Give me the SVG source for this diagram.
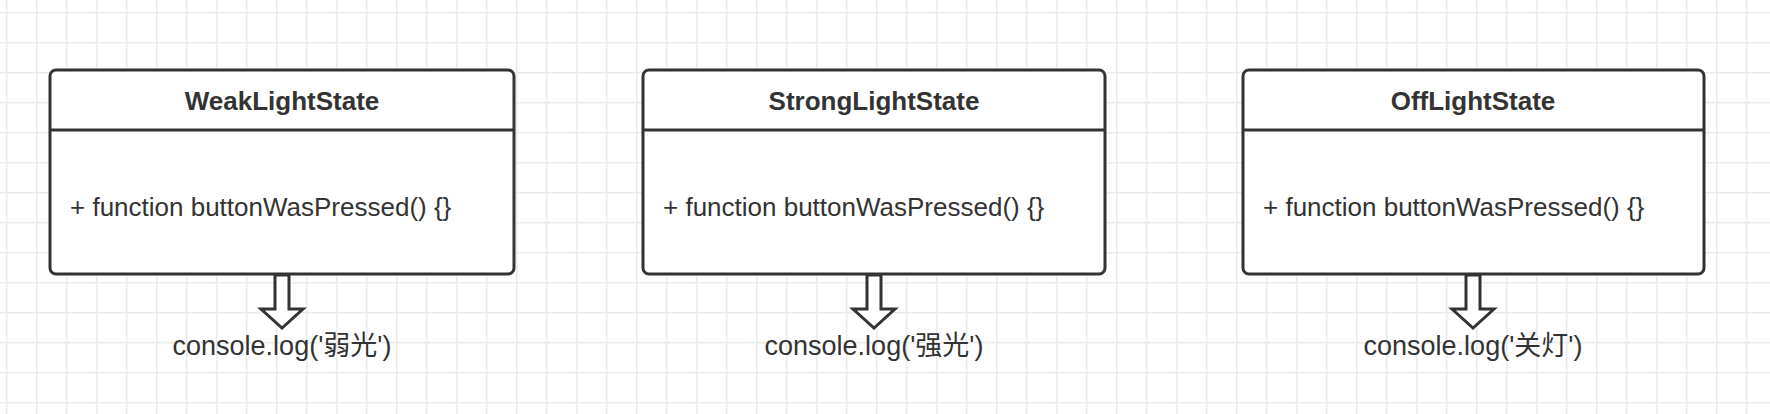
<svg xmlns="http://www.w3.org/2000/svg" width="1770" height="414" viewBox="0 0 1770 414">
<defs>
<pattern id="grid" x="0" y="0" width="30" height="30" patternUnits="userSpaceOnUse">
<path d="M6.7 0V30M0 12.7H30" stroke="#ebebeb" stroke-width="1.6" fill="none"/>
</pattern>
<style>
.box{fill:#fff;stroke:#333;stroke-width:3}
.div{stroke:#333;stroke-width:3}
.title{font-family:"Liberation Sans",Arial,sans-serif;font-size:26px;font-weight:bold;fill:#333;text-anchor:middle}
.method{font-family:"Liberation Sans",Arial,sans-serif;font-size:26px;fill:#333}
.label{font-family:"Liberation Sans",Arial,"Noto Sans CJK SC",sans-serif;font-size:27px;fill:#333;text-anchor:middle}
.arrow{fill:#fff;stroke:#333;stroke-width:3;stroke-linejoin:miter}
</style>
</defs>
<rect width="1770" height="414" fill="#fff"/>
<rect width="1770" height="414" fill="url(#grid)"/>
<g id="WeakLightState">
<rect class="box" x="50" y="70" width="464" height="204" rx="6"/>
<line class="div" x1="50" y1="130" x2="514" y2="130"/>
<text class="title" x="282" y="110">WeakLightState</text>
<text class="method" x="70" y="216">+ function buttonWasPressed() {}</text>
</g>
<g id="StrongLightState">
<rect class="box" x="643" y="70" width="462" height="204" rx="6"/>
<line class="div" x1="643" y1="130" x2="1105" y2="130"/>
<text class="title" x="874" y="110">StrongLightState</text>
<text class="method" x="663" y="216">+ function buttonWasPressed() {}</text>
</g>
<g id="OffLightState">
<rect class="box" x="1243" y="70" width="461" height="204" rx="6"/>
<line class="div" x1="1243" y1="130" x2="1704" y2="130"/>
<text class="title" x="1473" y="110">OffLightState</text>
<text class="method" x="1263" y="216">+ function buttonWasPressed() {}</text>
</g>
<g id="connectors">
<path class="arrow" d="M275 275V309H261L282 328L303 309H289V275Z"/>
<path class="arrow" d="M867 275V309H853L874 328L895 309H881V275Z"/>
<path class="arrow" d="M1466 275V309H1452L1473 328L1494 309H1480V275Z"/>
</g>
<g id="labels">
<text class="label" x="282" y="355">console.log('弱光')</text>
<text class="label" x="874" y="355">console.log('强光')</text>
<text class="label" x="1473" y="355">console.log('关灯')</text>
</g>
</svg>
